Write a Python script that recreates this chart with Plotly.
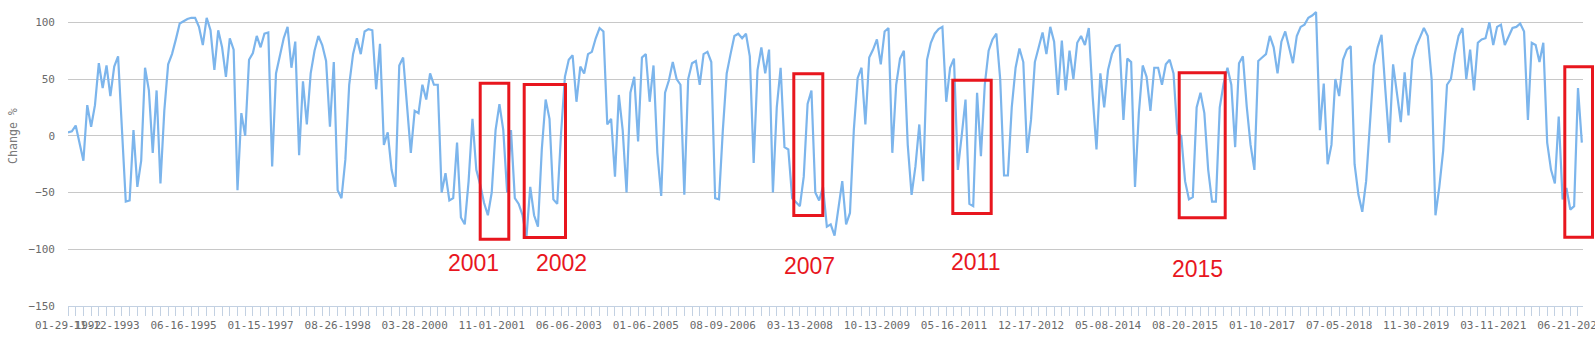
import plotly.graph_objects as go

# ---- data (one value every half tick period) ----
change_pct = [
    3, 4, 9, -6, -22, 27, 8, 27, 64, 42, 62, 35, 61, 70, 5, -58, -57, 5, -45, -22,
    60, 40, -15, 40, -42, 22, 63, 72, 85, 99, 101, 103, 104, 104, 96, 80, 104, 93, 58, 93,
    78, 52, 86, 76, -48, 20, 0, 67, 73, 88, 78, 90, 91, -27, 55, 71, 86, 96, 60, 83,
    -17, 48, 10, 55, 75, 88, 80, 66, 8, 65, -48, -55, -21, 45, 72, 86, 72, 92, 94, 93,
    41, 81, -8, 3, -30, -45, 62, 69, 23, -15, 22, 20, 45, 32, 55, 45, 45, -50, -33, -57,
    -55, -6, -72, -78, -40, 15, -30, -43, -59, -70, -50, 5, 28, 5, -50, 5, -55, -60, -70, -90,
    -45, -70, -80, -12, 32, 15, -56, -60, 2, 52, 67, 71, 30, 61, 55, 72, 74, 86, 95, 92,
    10, 15, -36, 36, 5, -50, 38, 52, -5, 69, 72, 30, 62, -15, -53, 38, 49, 65, 50, 45,
    -52, 50, 64, 66, 45, 72, 74, 65, -55, -56, 5, 55, 72, 88, 90, 86, 90, 70, -24, 58,
    78, 55, 76, -50, 25, 60, -10, -12, -55, -59, -62, -36, 28, 40, -50, -57, -45, -80, -78, -88,
    -62, -40, -78, -68, 5, 51, 60, 10, 69, 76, 85, 63, 92, 95, -15, 45, 68, 75, -8, -52,
    -27, 10, -40, 67, 82, 90, 94, 96, 30, 60, 68, -30, 0, 32, -60, -62, 38, -18, 45, 75,
    85, 90, 50, -35, -35, 25, 60, 77, 65, -15, 14, 65, 78, 91, 72, 96, 83, 36, 84, 40,
    75, 50, 82, 88, 80, 95, 35, -12, 55, 25, 58, 72, 79, 80, 14, 68, 65, -45, 20, 62,
    52, 22, 60, 60, 45, 63, 67, 55, 2, 0, -40, -56, -54, 25, 38, 20, -30, -58, -58, 25,
    46, 60, 45, -10, 64, 70, 26, -8, -30, 66, 69, 72, 88, 78, 55, 83, 92, 78, 64, 88,
    96, 98, 104, 106, 109, 5, 46, -25, -8, 50, 35, 67, 76, 79, -25, -52, -67, -40, 10, 62,
    78, 89, 40, -6, 63, 35, 12, 56, 18, 67, 79, 87, 95, 88, 50, -70, -45, -13, 45, 50,
    72, 88, 95, 50, 76, 40, 82, 85, 86, 100, 80, 96, 98, 80, 88, 95, 96, 99, 92, 14,
    82, 80, 65, 82, -6, -30, -42, 17, -56, -46, -65, -62, 42, -6,
]

tick_label_positions = [0, 5, 15, 25, 35, 45, 55, 65, 75, 85, 95, 105, 115, 125,
                        135, 145, 155, 165, 175, 185, 195]
tick_labels = ["01-29-1992", "11-12-1993", "06-16-1995", "01-15-1997", "08-26-1998",
               "03-28-2000", "11-01-2001", "06-06-2003", "01-06-2005", "08-09-2006",
               "03-13-2008", "10-13-2009", "05-16-2011", "12-17-2012", "05-08-2014",
               "08-20-2015", "01-10-2017", "07-05-2018", "11-30-2019", "03-11-2021",
               "06-21-2022"]
n_ticks = 197
y_ticks = [-150, -100, -50, 0, 50, 100]

highlight_years = ["2001", "2002", "2007", "2011", "2015"]

# ---- layout geometry ----
W, H = 1595, 344
L, R, T, B = 68, 12, 0, 38
PW, PH = W - L - R, H - T - B


def px_x(px):
    return (px - L) / PW


def px_y(py):
    return (H - B - py) / PH


samples_per_tick = 2
x = list(range(len(change_pct)))
tickvals = [k * samples_per_tick for k in range(n_ticks)]
label_map = dict(zip(tick_label_positions, tick_labels))
ticktext = [label_map.get(k, "") for k in range(n_ticks)]

fig = go.Figure()
fig.add_trace(go.Scatter(
    x=x, y=change_pct, mode="lines",
    line=dict(color="#7cb5ec", width=2.2),
    hoverinfo="skip", showlegend=False,
))

axis_font = dict(family="DejaVu Sans Mono", size=11, color="#6a6a6a")

fig.update_layout(
    width=W, height=H,
    margin=dict(l=L, r=R, t=T, b=B, pad=0, autoexpand=False),
    paper_bgcolor="white", plot_bgcolor="white",
    showlegend=False,
    xaxis=dict(
        range=[0, 393.3], tickmode="array", tickvals=tickvals, ticktext=ticktext,
        tickangle=0, ticks="outside", ticklen=9, tickwidth=1, tickcolor="#c3d1e2",
        showline=True, linecolor="#c3d1e2", linewidth=1,
        showgrid=False, zeroline=False, tickfont=axis_font,
        ticklabeloverflow="allow", automargin=False,
    ),
    yaxis=dict(
        range=[-150, 119.7], tickmode="array", tickvals=y_ticks,
        showgrid=True, gridcolor="#c8c8c8", gridwidth=1,
        zeroline=False, showline=False, ticks="",
        tickfont=axis_font, ticklabelstandoff=12, automargin=False,
    ),
)

# axis title
fig.add_annotation(
    text="Change %", xref="paper", yref="paper", x=px_x(13), y=px_y(136),
    textangle=-90, showarrow=False, xanchor="center", yanchor="middle",
    font=dict(family="DejaVu Sans Mono", size=11.6, color="#7a7a7a"),
)

# red highlight boxes (pixel-placed annotations)
boxes = [
    (480.2, 83.2, 508.8, 239.2),
    (524.2, 84.5, 565.5, 237.5),
    (793.8, 73.8, 822.8, 215.5),
    (952.8, 80.2, 991.2, 213.5),
    (1179.2, 72.8, 1225.2, 217.8),
    (1564.8, 66.8, 1592.5, 237.2),
]
for x0, y0, x1, y1 in boxes:
    fig.add_shape(
        type="rect", xref="paper", yref="paper",
        x0=px_x(x0), x1=px_x(x1), y0=px_y(y1), y1=px_y(y0),
        line=dict(color="#e8161e", width=3), fillcolor="rgba(0,0,0,0)", layer="above",
    )

label_pos = [(473, 263.3), (561, 263.3), (809.8, 266.3), (975.8, 262.3), (1197.8, 269)]
for text, (cx, cy) in zip(highlight_years, label_pos):
    fig.add_annotation(
        text=text, xref="paper", yref="paper", x=px_x(cx), y=px_y(cy),
        showarrow=False, xanchor="center", yanchor="middle",
        font=dict(family="Liberation Sans", size=23, color="#e8161e"),
    )

fig.write_html("out.html")
